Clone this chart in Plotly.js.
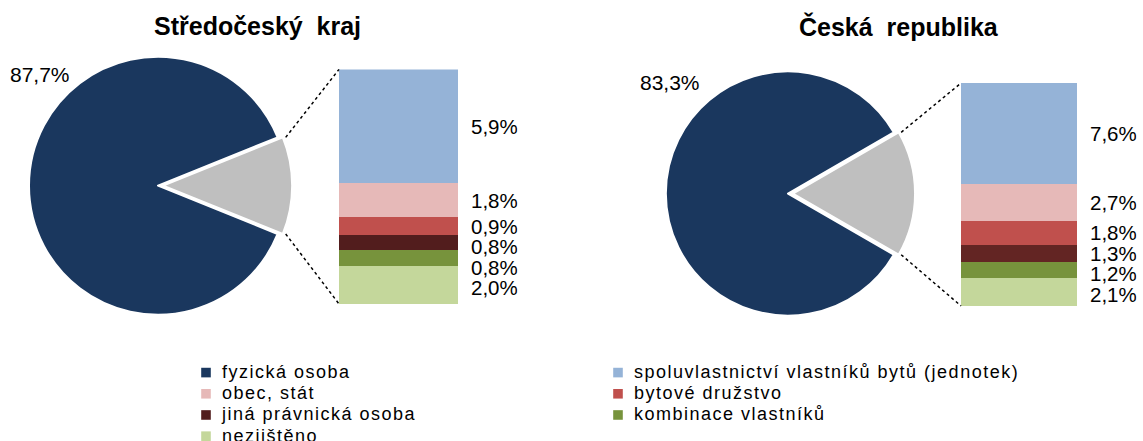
<!DOCTYPE html>
<html><head><meta charset="utf-8">
<script src="https://cdn.plot.ly/plotly-3.0.1.min.js"></script>
<style>
html,body{margin:0;padding:0;background:#fff;}
#chart{width:1143px;height:441px;}
.legend .legendtext{font-size:18px !important; letter-spacing:1.5px !important;}
.legend .legendpoints path{transform:translate(24px,0px) scale(0.8);}
.legend .scrollbox{clip-path:none !important; transform:translate(0px,11px);}
</style></head><body><div id="chart"></div>
<script>
// ---- data ----
const regions = ['Středočeský kraj', 'Česká republika'];
const mainCategory = 'fyzická osoba';
const mainValues = [87.7, 83.3];
const categories = ['spoluvlastnictví vlastníků bytů (jednotek)', 'obec, stát', 'bytové družstvo',
                    'jiná právnická osoba', 'kombinace vlastníků', 'nezjištěno'];
const stredoceskyValues = [5.9, 1.8, 0.9, 0.8, 0.8, 2.0];
const crValues = [7.6, 2.7, 1.8, 1.3, 1.2, 2.1];
const breakdown = [stredoceskyValues, crValues];

// ---- styles ----
const mainColor = '#1a375e';
const otherColor = '#bfbfbf';
const catColors = [
  ['#95b3d7', '#e6b9b8', '#c0504d', '#521d1d', '#77933c', '#c4d79b'],
  ['#95b3d7', '#e6b9b8', '#c0504d', '#632523', '#77933c', '#c4d79b']
];
const FONT = 'Arial, "Liberation Sans", sans-serif';
const W = 1143, H = 441;
const PULL = 0.04;
const panels = [
  {center: [158, 190], r: 132, bar: [339, 71, 458, 311], title: [257, 27], xa: 'x', ya: 'y'},
  {center: [788, 198], r: 125, bar: [961, 85, 1077, 313], title: [899, 27], xa: 'x2', ya: 'y2'}
];
const px2x = p => p / W;
const px2y = p => 1 - p / H;
const fmt = v => v.toFixed(1).replace('.', ',') + '%';
const sum = a => a.reduce((s, v) => s + v, 0);

const traces = [];
const annotations = [];
const shapes = [];
const layout = {
  width: W, height: H,
  margin: {l: 0, r: 0, t: 0, b: 0},
  paper_bgcolor: '#fff', plot_bgcolor: '#fff',
  barmode: 'stack',
  showlegend: true,
  font: {family: FONT, color: '#000'},
  legend: {
    orientation: 'h', x: px2x(182), xanchor: 'left', y: px2y(354), yanchor: 'top',
    entrywidth: 367, traceorder: 'normal', bgcolor: 'rgba(0,0,0,0)',
    font: {family: FONT, size: 14, color: '#000'}
  },
  annotations: annotations,
  shapes: shapes
};

// legend entry for the main category
traces.push({
  type: 'bar', x: [0], y: [0], width: [1], xaxis: 'x', yaxis: 'y',
  name: mainCategory, marker: {color: mainColor}, legendrank: 1, hoverinfo: 'skip'
});

panels.forEach((p, k) => {
  const other = sum(breakdown[k]);
  const main = mainValues[k];
  const total = main + other;
  const rotation = 90 - (other / total) * 180 - (main / total) * 360;
  const [cx, cy] = p.center;
  const box = p.r * (1 + PULL);
  traces.push({
    type: 'pie', labels: [mainCategory, 'ostatní'], values: [main, other],
    sort: false, direction: 'clockwise', rotation: rotation, pull: [0, PULL],
    marker: {colors: [mainColor, otherColor], line: {color: '#fff', width: 2}},
    textinfo: 'none', showlegend: false, hoverinfo: 'skip',
    domain: {x: [px2x(cx - box), px2x(cx + box)], y: [px2y(cy + box), px2y(cy - box)]}
  });

  // stacked bar, bottom first
  const vals = breakdown[k];
  for (let i = vals.length - 1; i >= 0; i--) {
    traces.push({
      type: 'bar', x: [0], y: [vals[i]], width: [1], xaxis: p.xa, yaxis: p.ya,
      name: categories[i], legendgroup: categories[i], showlegend: k === 0,
      legendrank: i + 2, marker: {color: catColors[k][i], line: {width: 0}}, hoverinfo: 'skip'
    });
  }
  const axN = k === 0 ? '' : '2';
  layout['xaxis' + axN] = {
    domain: [px2x(p.bar[0]), px2x(p.bar[2])], range: [-0.5, 0.5], visible: false,
    anchor: 'y' + axN, fixedrange: true
  };
  layout['yaxis' + axN] = {
    domain: [px2y(p.bar[3]), px2y(p.bar[1])], range: [0, other], visible: false,
    anchor: 'x' + axN, fixedrange: true
  };

  // bar labels (segment centres, pushed apart if they would overlap)
  const barH = p.bar[3] - p.bar[1];
  let cum = 0;
  const ys = vals.map(v => { const c = cum + v / 2; cum += v; return p.bar[1] + c / other * barH; });
  for (let i = 1; i < ys.length; i++) if (ys[i] - ys[i - 1] < 21) ys[i] = ys[i - 1] + 21;
  vals.forEach((v, i) => {
    annotations.push({
      xref: 'paper', yref: 'paper', x: px2x(p.bar[2] + 12), y: px2y(ys[i]),
      xanchor: 'left', yanchor: 'middle', showarrow: false, text: fmt(v),
      height: 21, borderpad: 0,
      font: {family: FONT, size: 20.5, color: '#000'}
    });
  });

  // connector lines from the pulled slice to the bar
  const shift = p.r * PULL;
  const half = other / total * Math.PI;
  const ex = cx + shift + p.r * Math.cos(half);
  const eyU = cy - p.r * Math.sin(half), eyL = cy + p.r * Math.sin(half);
  shapes.push({type: 'line', xref: 'paper', yref: 'paper',
    x0: px2x(ex), y0: px2y(eyU), x1: px2x(p.bar[0]), y1: px2y(p.bar[1]),
    line: {color: '#000', width: 1.5, dash: 'dot'}});
  shapes.push({type: 'line', xref: 'paper', yref: 'paper',
    x0: px2x(ex), y0: px2y(eyL), x1: px2x(p.bar[0]), y1: px2y(p.bar[3]),
    line: {color: '#000', width: 1.5, dash: 'dot'}});

  // main slice label
  annotations.push({
    xref: 'paper', yref: 'paper', x: px2x(cx - 118), y: px2y(cy - 114),
    xanchor: 'center', yanchor: 'middle', showarrow: false, text: fmt(main),
    font: {family: FONT, size: 21, color: '#000'}
  });

  // title
  annotations.push({
    xref: 'paper', yref: 'paper', x: px2x(p.title[0]), y: px2y(p.title[1]),
    xanchor: 'center', yanchor: 'middle', showarrow: false,
    text: regions[k].replace(' ', '\u00a0 '),
    font: {family: FONT, size: 25, weight: 'bold', color: '#000'}
  });
});

Plotly.newPlot('chart', traces, layout, {staticPlot: true, displayModeBar: false});
</script></body></html>
